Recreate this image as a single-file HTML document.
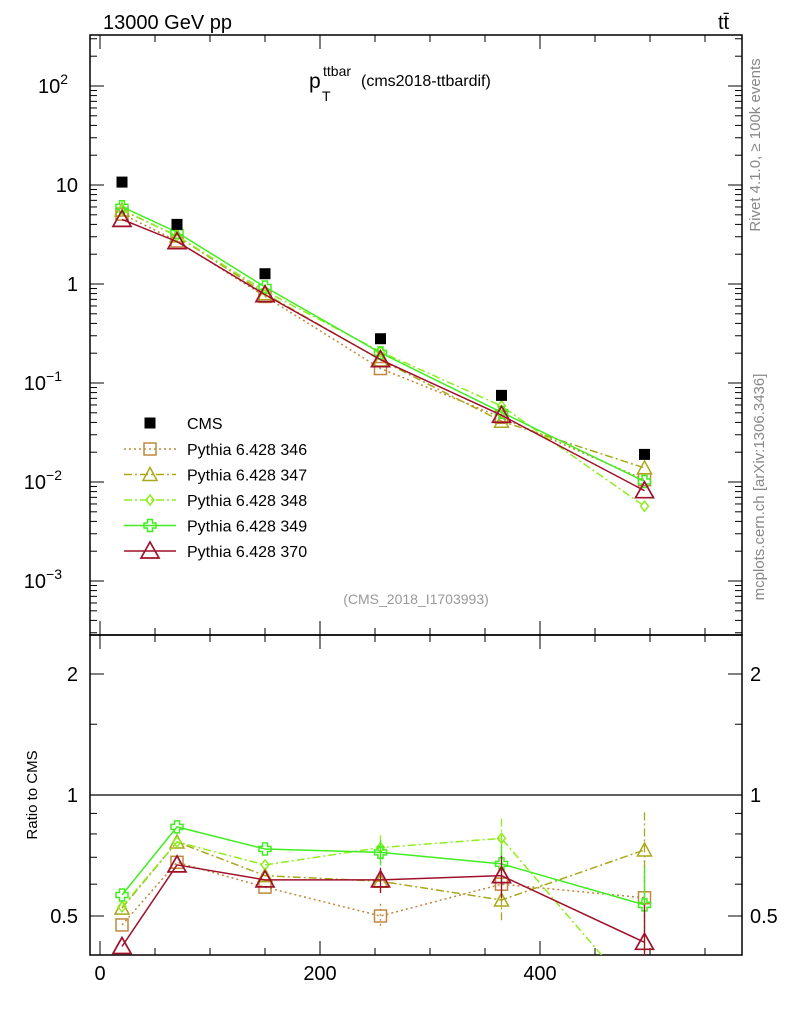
<!DOCTYPE html>
<html><head><meta charset="utf-8"><style>
html,body{margin:0;padding:0;background:#fff;}
svg{display:block;font-family:"Liberation Sans",sans-serif;}
</style></head><body>
<svg id="c" width="786" height="1024" viewBox="0 0 786 1024" xmlns="http://www.w3.org/2000/svg">
<text x="103" y="29" font-size="20">13000 GeV pp</text>
<text x="718" y="29" font-size="20">tt̄</text>
<g>
<text x="309" y="88" font-size="21">p</text>
<text x="323" y="76" font-size="14">ttbar</text>
<text x="322" y="101" font-size="14">T</text>
<text x="361" y="86" font-size="16">(cms2018-ttbardif)</text>
</g>
<text x="416" y="604" font-size="14" fill="#999" text-anchor="middle">(CMS_2018_I1703993)</text>
<text transform="translate(760,145) rotate(-90)" font-size="15" fill="#888" text-anchor="middle">Rivet 4.1.0, ≥ 100k events</text>
<text transform="translate(764,487) rotate(-90)" font-size="15" fill="#888" text-anchor="middle">mcplots.cern.ch [arXiv:1306.3436]</text>
<text transform="translate(37,795) rotate(-90)" font-size="15" text-anchor="middle">Ratio to CMS</text>
<g id="g"></g>
</svg>
<script>
const xs = [20, 70, 150, 255, 365, 495];
const cms = [10.7, 4.0, 1.27, 0.28, 0.075, 0.019];
const r346 = [0.475, 0.68, 0.59, 0.50, 0.60, 0.555];
const r347 = [0.523, 0.764, 0.63, 0.61, 0.548, 0.73];
const r348 = [0.527, 0.764, 0.67, 0.74, 0.78, 0.30];
const r349 = [0.564, 0.833, 0.734, 0.72, 0.674, 0.533];
const r370 = [0.42, 0.67, 0.615, 0.615, 0.63, 0.43];
const errs = [0.01, 0.01, 0.02, 0.06, 0.10, 0.20];
const xTicks = [0, 200, 400];

const NS = "http://www.w3.org/2000/svg";
const g = document.getElementById('g');
const L = 90, R = 742, T1 = 35, B1 = 635, B2 = 955;
const X = v => 100 + (v) * 1.1;
const Y = v => 185 - (Math.log10(v) - 1) * 99;
const YR = r => 795 - Math.log2(r) * 121;
function el(tag, attrs, parent) {
  const e = document.createElementNS(NS, tag);
  for (const k in attrs) e.setAttribute(k, attrs[k]);
  (parent || g).appendChild(e);
  return e;
}
let f1 = el('rect', {x: L, y: T1, width: R - L, height: B1 - T1, fill: 'none', stroke: '#000', 'stroke-width': 1.5});


let f2 = el('rect', {x: L, y: B1, width: R - L, height: B2 - B1, fill: 'none', stroke: '#000', 'stroke-width': 1.5});


let one = el('line', {x1: L, x2: R, y1: YR(1), y2: YR(1), stroke: '#000', 'stroke-width': 1.3});


for (let d = -4; d <= 2; d++) {
  for (let m = 1; m <= 9; m++) {
    const v = m * Math.pow(10, d);
    const y = Y(v);
    if (y < T1 || y > B1) continue;
    const len = m === 1 ? 14 : 7;
    el('line', {x1: L, x2: L + len, y1: y, y2: y, stroke: '#000'});
    el('line', {x1: R, x2: R - len, y1: y, y2: y, stroke: '#000'});
  }
}
const ylabs = [[2, '10', '2'], [1, '10', ''], [0, '1', ''], [-1, '10', '−1'], [-2, '10', '−2'], [-3, '10', '−3']];
ylabs.forEach(a => {
  const t = el('text', {x: a[2] ? 62 : 78, y: Y(Math.pow(10, a[0])) + 7, 'font-size': 20, 'text-anchor': 'end'});
  
  
  t.textContent = a[1];
  if (a[2]) {
    const s = el('tspan', {dy: -9, 'font-size': 14}, t);
    s.textContent = a[2];
    t.setAttribute('x', a[2].length > 1 ? 62 : 68);
  }
});
[0.5, 0.6, 0.7, 0.8, 0.9, 1, 1.5, 2].forEach(r => {
  const len = (r === 0.5 || r === 1 || r === 2) ? 14 : 7;
  el('line', {x1: L, x2: L + len, y1: YR(r), y2: YR(r), stroke: '#000'});
  el('line', {x1: R, x2: R - len, y1: YR(r), y2: YR(r), stroke: '#000'});
});
[[2, '2'], [1, '1'], [0.5, '0.5']].forEach(a => {
  const t = el('text', {x: 78, y: YR(a[0]) + 7, 'font-size': 20, 'text-anchor': 'end'});
  
  
  t.textContent = a[1];
  const t2 = el('text', {x: 750, y: YR(a[0]) + 7, 'font-size': 20});
  
  
  t2.textContent = a[1];
});
for (let v = 0; v <= 550; v += 50) {
  const len = v % 200 === 0 ? 14 : 7;
  [[B1, -1], [B2, -1], [T1, 1], [B1, 1]].forEach(p => {
    el('line', {x1: X(v), x2: X(v), y1: p[0], y2: p[0] + p[1] * len, stroke: '#000'});
  });
}
xTicks.forEach(v => {
  const t = el('text', {x: X(v), y: 980, 'font-size': 20, 'text-anchor': 'middle'});
  
  
  t.textContent = v;
});
const defs = el('defs', {});
const c1 = el('clipPath', {id: 'cp1'}, defs); el('rect', {x: L, y: T1, width: R - L, height: B1 - T1}, c1);
const c2 = el('clipPath', {id: 'cp2'}, defs); el('rect', {x: L, y: B1, width: R - L, height: B2 - B1}, c2);

function marker(parent, type, x, y, col) {
  if (type === 'sq') el('rect', {x: x - 6, y: y - 6, width: 12, height: 12, fill: 'none', stroke: col, 'stroke-width': 1.5}, parent);
  else if (type === 'tri') el('polygon', {points: `${x},${y - 7} ${x - 7},${y + 6} ${x + 7},${y + 6}`, fill: 'none', stroke: col, 'stroke-width': 1.5}, parent);
  else if (type === 'bigtri') el('polygon', {points: `${x},${y - 9} ${x - 9},${y + 7} ${x + 9},${y + 7}`, fill: 'none', stroke: col, 'stroke-width': 1.7}, parent);
  else if (type === 'dia') el('polygon', {points: `${x},${y - 5} ${x - 4},${y} ${x},${y + 5} ${x + 4},${y}`, fill: 'none', stroke: col, 'stroke-width': 1.5}, parent);
  else if (type === 'plus') el('path', {d: `M${x - 2.5},${y - 6}h5v3.5h3.5v5h-3.5v3.5h-5v-3.5h-3.5v-5h3.5z`, fill: 'none', stroke: col, 'stroke-width': 1.5}, parent);
}
const series = [
  {name: 'Pythia 6.428 346', r: r346, col: '#c0883e', dash: '2,3', m: 'sq'},
  {name: 'Pythia 6.428 347', r: r347, col: '#a8a81a', dash: '8,3,2,3', m: 'tri'},
  {name: 'Pythia 6.428 348', r: r348, col: '#90ee20', dash: '8,3,2,3', m: 'dia'},
  {name: 'Pythia 6.428 349', r: r349, col: '#40ee20', dash: '', m: 'plus'},
  {name: 'Pythia 6.428 370', r: r370, col: '#a0102a', dash: '', m: 'bigtri'}
];
series.forEach((s, si) => {
  const vals = s.r.map((r, i) => r * cms[i]);
  const gm = el('g', {'clip-path': 'url(#cp1)'});
  
  
  el('polyline', {points: xs.map((x, i) => X(x) + ',' + Y(vals[i])).join(' '), fill: 'none', stroke: s.col, 'stroke-width': 1.5, 'stroke-dasharray': s.dash}, gm);
  xs.forEach((x, i) => marker(gm, s.m, X(x), Y(vals[i]), s.col));
  const gr = el('g', {'clip-path': 'url(#cp2)'});
  
  
  el('polyline', {points: xs.map((x, i) => X(x) + ',' + YR(s.r[i])).join(' '), fill: 'none', stroke: s.col, 'stroke-width': 1.5, 'stroke-dasharray': s.dash}, gr);
  xs.forEach((x, i) => {
    const e = errs[i] * s.r[i] * 1.2;
    if (e > 0.02) el('line', {x1: X(x), x2: X(x), y1: YR(s.r[i] + e), y2: YR(Math.max(s.r[i] - e, 0.1)), stroke: s.col, 'stroke-width': 1.3, 'stroke-dasharray': s.dash}, gr);
    marker(gr, s.m, X(x), YR(s.r[i]), s.col);
  });
  const ly = 449 + si * 25.5;
  const lg = el('g', {});
  
  
  el('line', {x1: 124, x2: 176, y1: ly, y2: ly, stroke: s.col, 'stroke-width': 1.5, 'stroke-dasharray': s.dash}, lg);
  marker(lg, s.m, 150, ly, s.col);
  const t = el('text', {x: 187, y: ly + 6, 'font-size': 16}, lg);
  t.textContent = s.name;
});
const gc = el('g', {});


xs.forEach((x, i) => el('rect', {x: X(x) - 5.5, y: Y(cms[i]) - 5.5, width: 11, height: 11, fill: '#000'}, gc));
const lc = el('g', {});


el('rect', {x: 144.5, y: 417.5, width: 11, height: 11, fill: '#000'}, lc);
const tc = el('text', {x: 187, y: 429, 'font-size': 16}, lc);
tc.textContent = 'CMS';
</script>
</body></html>
